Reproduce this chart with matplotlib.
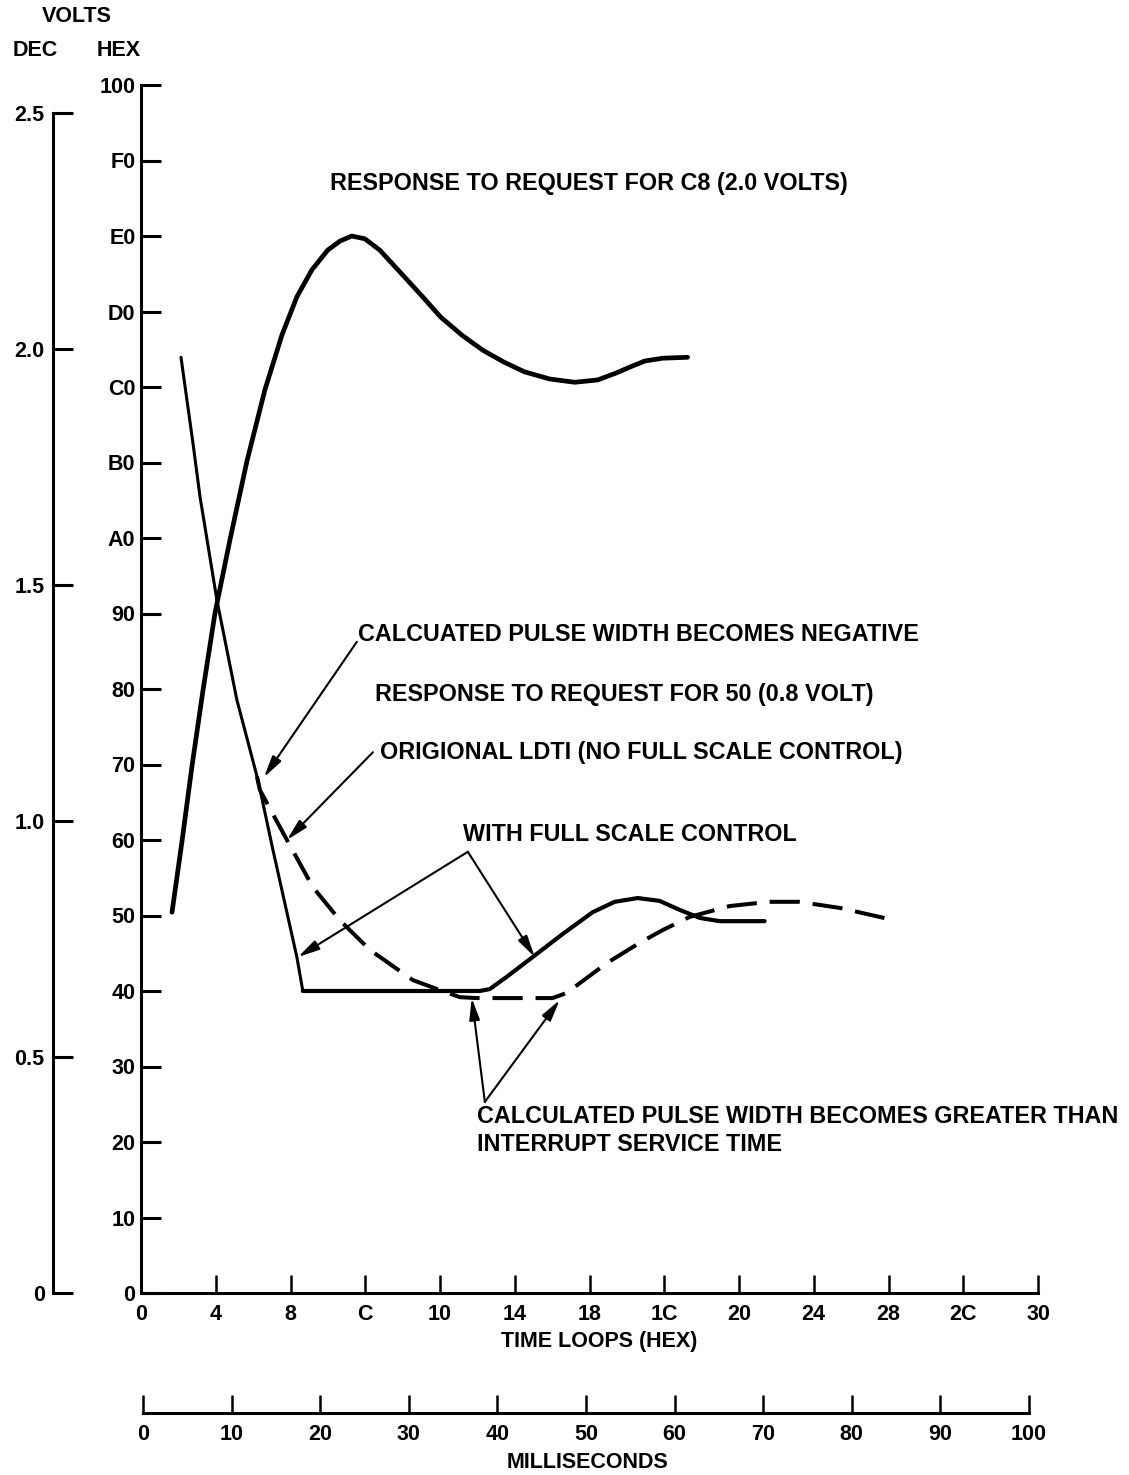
import matplotlib
matplotlib.use("Agg")
import matplotlib.pyplot as plt
from matplotlib.patches import FancyArrowPatch

plt.rcParams['font.family'] = ['Liberation Sans', 'DejaVu Sans']
plt.rcParams['font.weight'] = 'bold'

# ---- data (time in loops, level in counts; 0x100 = 256 counts = 2.56 V) ----
c8_loops = [1.66, 2.19, 2.73, 3.32, 3.96, 4.76, 5.67, 6.63, 7.54, 8.34, 9.14,
            9.99, 10.64, 11.28, 11.98, 12.78, 13.85, 15.03, 16.04, 17.17,
            18.29, 19.41, 20.53, 21.87, 23.21, 24.44, 25.45, 26.15, 26.95,
            27.91, 29.25]
c8_level = [80.7, 95.6, 111.7, 127.8, 144.1, 159.6, 176.3, 191.4, 203.0, 211.1,
            216.8, 221.0, 222.9, 224.0, 223.4, 221.0, 216.4, 211.3, 206.8,
            203.0, 199.8, 197.3, 195.2, 193.7, 193.0, 193.5, 195.0, 196.2,
            197.5, 198.1, 198.3]

fsc_loops = [2.14, 2.78, 3.16, 4.06, 5.13, 6.26, 7.06, 8.34, 8.66, 18.13, 18.66,
             19.57, 20.96, 22.57, 24.17, 25.35, 26.58, 27.75, 28.82, 29.89,
             30.96, 33.37]
fsc_level = [198.3, 180.1, 168.7, 146.9, 125.7, 108.7, 93.9, 71.2, 64.0, 64.0,
             64.4, 67.0, 71.2, 76.1, 80.7, 82.9, 83.7, 83.1, 81.2, 79.5, 78.8,
             78.8]

orig_loops = [6.2, 6.36, 7.81, 9.2, 10.64, 12.25, 14.55, 15.99, 17.06, 17.97,
              22.03, 22.78, 24.92, 26.68, 27.91, 29.36, 31.5, 33.6, 35.2, 37.4,
              40.3]
orig_level = [109.5, 106.6, 96.0, 86.0, 79.0, 72.7, 66.3, 64.2, 62.7, 62.5,
              62.5, 63.6, 69.9, 74.2, 76.9, 79.7, 82.0, 82.9, 82.9, 81.6, 79.0]

hex_ticks = list(range(0, 257, 16))
hex_labels = ['0', '10', '20', '30', '40', '50', '60', '70', '80', '90',
              'A0', 'B0', 'C0', 'D0', 'E0', 'F0', '100']
loop_ticks = list(range(0, 49, 4))
loop_labels = ['0', '4', '8', 'C', '10', '14', '18', '1C', '20', '24', '28',
               '2C', '30']
volt_ticks = [0, 0.5, 1.0, 1.5, 2.0, 2.5]
volt_labels = ['0', '0.5', '1.0', '1.5', '2.0', '2.5']
ms_ticks = list(range(0, 101, 10))
ms_labels = [str(v) for v in ms_ticks]

# ---- figure layout (pixel helpers) ----
W, H = 1129, 1475
fig = plt.figure(figsize=(W / 100, H / 100), dpi=100)


def fx(px):
    return px / W


def fy(py):
    return 1 - py / H


LW_AX = 2.2
TFS = 15.5

ax = fig.add_axes([fx(141), fy(1293), fx(1038) - fx(141), fy(85) - fy(1293)])
ax.set_xlim(0, 48)
ax.set_ylim(0, 256)
ax.patch.set_visible(False)
for s in ('top', 'right'):
    ax.spines[s].set_visible(False)
for s in ('left', 'bottom'):
    ax.spines[s].set_linewidth(LW_AX)
ax.set_yticks(hex_ticks, hex_labels)
ax.set_xticks(loop_ticks, loop_labels)
ax.tick_params(axis='y', direction='in', length=14.5, width=LW_AX, pad=4,
               labelsize=TFS)
ax.tick_params(axis='x', direction='in', length=13, width=1.8, pad=8,
               labelsize=TFS)

# decimal volts scale
axv = fig.add_axes([fx(53), fy(1293), 0.02, fy(85) - fy(1293)])
axv.set_ylim(0, 2.56)
axv.patch.set_visible(False)
for s in ('top', 'right', 'bottom'):
    axv.spines[s].set_visible(False)
axv.spines['left'].set_linewidth(LW_AX)
axv.spines['left'].set_bounds(0, 2.5)
axv.set_xticks([])
axv.set_yticks(volt_ticks, volt_labels)
axv.tick_params(axis='y', direction='in', length=14.5, width=LW_AX, pad=6,
                labelsize=TFS)

# milliseconds scale
axm = fig.add_axes([fx(143), fy(1413), fx(1029) - fx(143), 0.002])
axm.set_xlim(0, 100)
axm.set_ylim(0, 1)
axm.patch.set_visible(False)
for s in ('top', 'right', 'left'):
    axm.spines[s].set_visible(False)
axm.spines['bottom'].set_linewidth(LW_AX)
axm.set_yticks([])
axm.set_xticks(ms_ticks, ms_labels)
axm.tick_params(axis='x', direction='in', length=13, width=1.8, pad=8,
                labelsize=TFS)

# ---- curves ----
ax.plot(c8_loops, c8_level, color='black', lw=3.4, solid_capstyle='round',
        solid_joinstyle='round', clip_on=False)
# full scale control response: thinner falling edge, heavier settled part
ax.plot(fsc_loops[:9], fsc_level[:9], color='black', lw=2.2,
        solid_capstyle='round', solid_joinstyle='round', clip_on=False)
ax.plot(fsc_loops[8:], fsc_level[8:], color='black', lw=3.0,
        solid_capstyle='round', solid_joinstyle='round', clip_on=False)
ax.plot(orig_loops, orig_level, color='black', lw=2.9, dashes=(7.5, 3.2),
        dash_capstyle='butt', clip_on=False)

# ---- annotations ----
AFS = 16.8


def label(x, y, s):
    ax.text(x, y, s, fontsize=AFS, fontweight='bold', ha='left', va='center',
            clip_on=False)


def arrow(p0, p1):
    a = FancyArrowPatch(p0, p1, arrowstyle='-|>,head_length=1.0,head_width=0.24',
                        mutation_scale=13, lw=1.5, color='black',
                        shrinkA=0, shrinkB=0, clip_on=False)
    ax.add_patch(a)


label(10.1, 235.2, 'RESPONSE TO REQUEST FOR C8 (2.0 VOLTS)')
label(11.6, 139.5, 'CALCUATED PULSE WIDTH BECOMES NEGATIVE')
label(12.51, 126.9, 'RESPONSE TO REQUEST FOR 50 (0.8 VOLT)')
label(12.78, 114.6, 'ORIGIONAL LDTI (NO FULL SCALE CONTROL)')
label(17.22, 97.1, 'WITH FULL SCALE CONTROL')
label(17.97, 37.3, 'CALCULATED PULSE WIDTH BECOMES GREATER THAN')
label(17.97, 31.4, 'INTERRUPT SERVICE TIME')

arrow((11.55, 138.0), (6.58, 109.3))
arrow((12.41, 114.6), (7.81, 96.0))
arrow((17.49, 93.5), (8.40, 71.2))
arrow((17.49, 93.5), (21.07, 71.2))
arrow((18.40, 40.5), (17.70, 62.5))
arrow((18.40, 40.5), (22.41, 62.1))

# ---- axis titles ----
fig.text(fx(77), fy(16), 'VOLTS', fontsize=TFS, fontweight='bold',
         ha='center', va='center')
fig.text(fx(35), fy(50), 'DEC', fontsize=TFS, fontweight='bold',
         ha='center', va='center')
fig.text(fx(119), fy(50), 'HEX', fontsize=TFS, fontweight='bold',
         ha='center', va='center')
fig.text(fx(599), fy(1342), 'TIME LOOPS (HEX)', fontsize=TFS,
         fontweight='bold', ha='center', va='center')
fig.text(fx(587), fy(1463), 'MILLISECONDS', fontsize=TFS, fontweight='bold',
         ha='center', va='center')

fig.savefig('out.png', dpi=100)
